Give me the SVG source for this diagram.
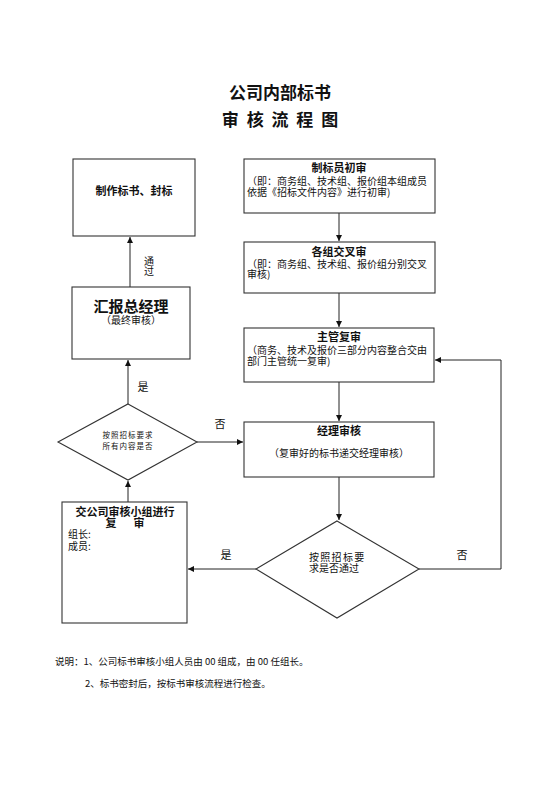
<svg xmlns="http://www.w3.org/2000/svg" width="560" height="792" viewBox="0 0 560 792">
<style>
text{font-family:"Noto Sans CJK SC","Noto Sans",sans-serif;fill:#111;}
.box{fill:#fff;stroke:#333;stroke-width:1.1;}
.t{font-weight:bold;font-size:11px;text-anchor:middle;}
.s{font-size:10px;}
.c{text-anchor:middle;}
.lbl{font-size:11px;text-anchor:middle;}
.conn{fill:none;stroke:#222;stroke-width:1;}
</style>
<defs>
<marker id="ah" viewBox="0 0 10 10" refX="10" refY="5" markerWidth="6" markerHeight="6" orient="auto" markerUnits="userSpaceOnUse">
<path d="M0,0 L10,5 L0,10 z" fill="#111"/>
</marker>
</defs>
<rect width="560" height="792" fill="#fff"/>
<g id="title">
<text x="280" y="99" font-size="17" font-weight="bold" text-anchor="middle">公司内部标书</text>
<text x="281" y="126" font-size="17" font-weight="bold" text-anchor="middle" letter-spacing="2">审 核 流 程 图</text>
</g>
<g id="connectors">
<path class="conn" d="M339,213 V241" marker-end="url(#ah)"/>
<path class="conn" d="M339,293 V327" marker-end="url(#ah)"/>
<path class="conn" d="M339,382 V421" marker-end="url(#ah)"/>
<path class="conn" d="M339,477 V520" marker-end="url(#ah)"/>
<path class="conn" d="M256,569 H188" marker-end="url(#ah)"/>
<path class="conn" d="M419,569 H501 V360 H435" marker-end="url(#ah)"/>
<path class="conn" d="M128,502 V481" marker-end="url(#ah)"/>
<path class="conn" d="M197,442 H243" marker-end="url(#ah)"/>
<path class="conn" d="M128,404 V360" marker-end="url(#ah)"/>
<path class="conn" d="M130,287 V237" marker-end="url(#ah)"/>
<text x="149" y="266" font-size="10" text-anchor="middle" writing-mode="tb" glyph-orientation-vertical="0">通过</text>
<text class="lbl" x="143" y="391">是</text>
<text class="lbl" x="220" y="428">否</text>
<text class="lbl" x="226" y="559">是</text>
<text class="lbl" x="462" y="559">否</text>
</g>
<g id="node-make">
<rect class="box" x="73" y="159" width="122" height="77"/>
<text class="t" x="134" y="195">制作标书、封标</text>
</g>
<g id="node-initial">
<rect class="box" x="244" y="159" width="191" height="54"/>
<text class="t" x="339" y="172">制标员初审</text>
<text class="s" x="247" y="185">（即：商务组、技术组、报价组本组成员</text>
<text class="s" x="247" y="196">依据《招标文件内容》进行初审)</text>
</g>
<g id="node-cross">
<rect class="box" x="244" y="242" width="191" height="51"/>
<text class="t" x="339" y="256">各组交叉审</text>
<text class="s" x="247" y="268">（即：商务组、技术组、报价组分别交叉</text>
<text class="s" x="247" y="278">审核)</text>
</g>
<g id="node-gm">
<rect class="box" x="72" y="287" width="118" height="72"/>
<text x="131" y="312" font-size="15" font-weight="bold" text-anchor="middle">汇报总经理</text>
<text class="s c" x="131" y="324">（最终审核）</text>
</g>
<g id="node-supervisor">
<rect class="box" x="244" y="328" width="190" height="54"/>
<text class="t" x="339" y="341">主管复审</text>
<text class="s" x="247" y="354">（商务、技术及报价三部分内容整合交由</text>
<text class="s" x="247" y="365">部门主管统一复审)</text>
</g>
<g id="node-decision1">
<polygon class="box" points="128,404 197,442 128,480 58,442"/>
<text x="128" y="438" font-size="7.5" text-anchor="middle" letter-spacing="1" fill="#333">按照招标要求</text>
<text x="128" y="449" font-size="7.5" text-anchor="middle" letter-spacing="1" fill="#333">所有内容是否</text>
</g>
<g id="node-manager">
<rect class="box" x="244" y="422" width="190" height="55"/>
<text class="t" x="339" y="435">经理审核</text>
<text class="s c" x="339" y="457">（复审好的标书递交经理审核）</text>
</g>
<g id="node-committee">
<rect class="box" x="62" y="502" width="125" height="121"/>
<text class="t" x="125" y="516">交公司审核小组进行</text>
<text class="t" x="111" y="527">复</text>
<text class="t" x="139" y="527">审</text>
<text class="s" x="68" y="538">组长:</text>
<text class="s" x="68" y="550">成员:</text>
</g>
<g id="node-decision2">
<polygon class="box" points="337,521 419,569 337,618 256,569"/>
<text class="s" x="309" y="561" letter-spacing="1.3">按照招标要</text>
<text class="s" x="309" y="572">求是否通过</text>
</g>
<g id="notes">
<text x="55" y="665" font-size="9.5">说明：1、公司标书审核小组人员由 00 组成，由 00 任组长。</text>
<text x="85" y="687" font-size="9.5">2、标书密封后，按标书审核流程进行检查。</text>
</g>
</svg>
